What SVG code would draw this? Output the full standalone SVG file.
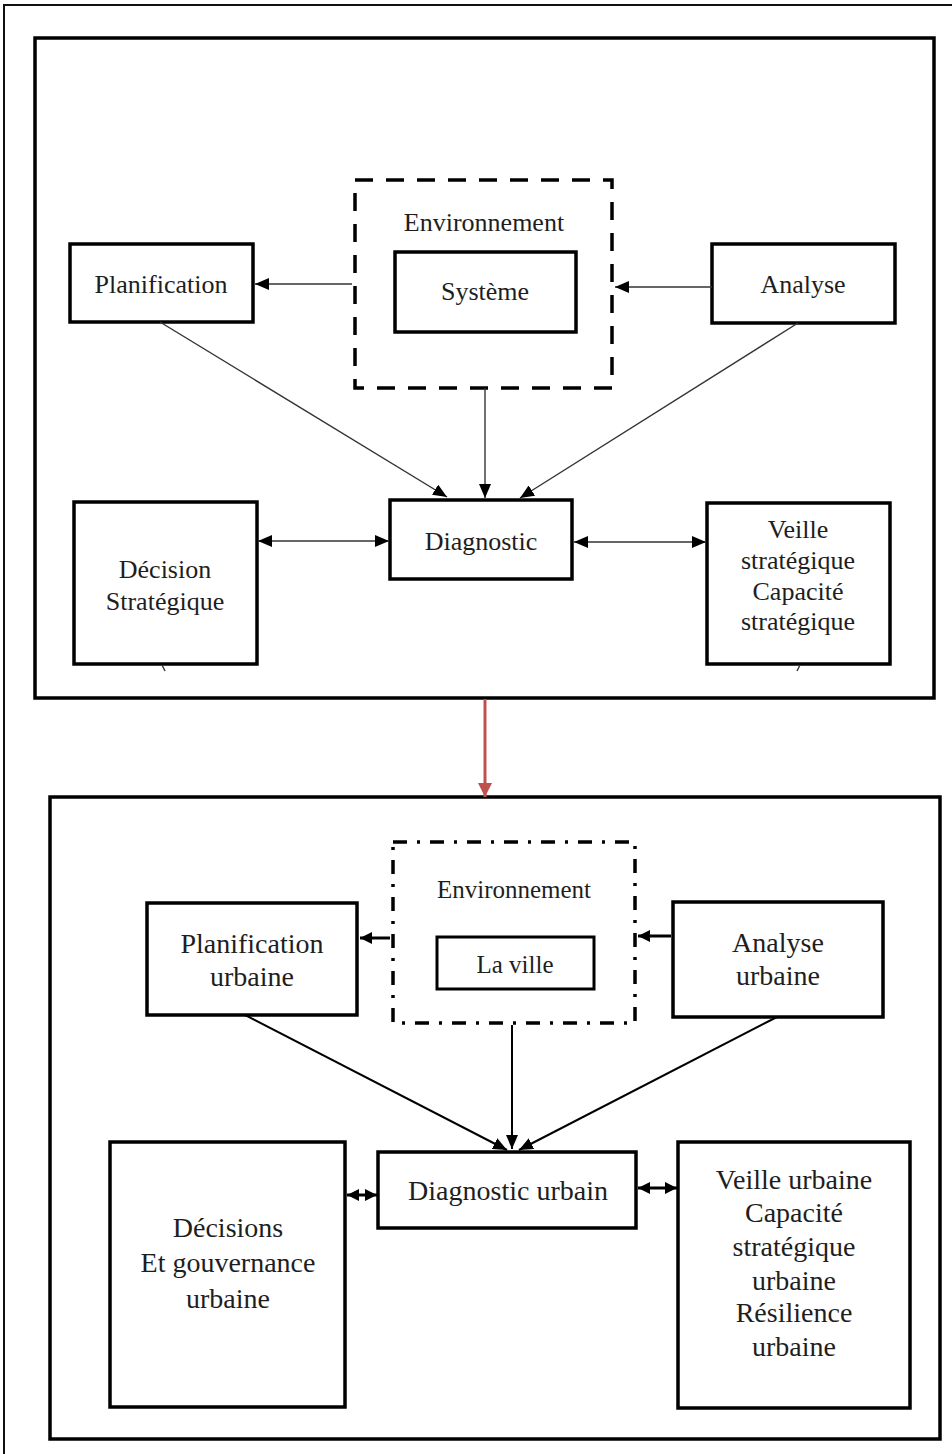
<svg xmlns="http://www.w3.org/2000/svg" width="952" height="1454" viewBox="0 0 952 1454">
  <style>
    text { font-family: "Liberation Serif", "Times New Roman", serif; fill: #1e1e1e; text-anchor: middle; }
    .frame { fill: none; stroke: #111; stroke-width: 2; }
    .panel { fill: none; stroke: #000; stroke-width: 3.5; }
    .box { fill: #fff; stroke: #000; stroke-width: 3.5; }
    .env1 { fill: none; stroke: #000; stroke-width: 3.5; stroke-dasharray: 18 13; }
    .env2 { fill: none; stroke: #000; stroke-width: 3.5; stroke-dasharray: 14 10 3 10; }
    .thin { fill: none; stroke: #333; stroke-width: 1.4; }
    .thick { fill: none; stroke: #000; stroke-width: 2; }
    .bold { fill: none; stroke: #000; stroke-width: 3; }
    .t26 { font-size: 26px; }
    .t25 { font-size: 25px; }
    .t28 { font-size: 28px; }
  </style>
  <defs>
    <marker id="ah" viewBox="0 0 14 12" refX="14" refY="6" markerWidth="14" markerHeight="12" markerUnits="userSpaceOnUse" orient="auto-start-reverse">
      <path d="M0,0 L14,6 L0,12 z" fill="#000"/>
    </marker>
    <marker id="ahb" viewBox="0 0 12 12" refX="12" refY="6" markerWidth="12" markerHeight="12" markerUnits="userSpaceOnUse" orient="auto-start-reverse">
      <path d="M0,0 L12,6 L0,12 z" fill="#000"/>
    </marker>
    <marker id="ahr" viewBox="0 0 14 14" refX="14" refY="7" markerWidth="14" markerHeight="14" markerUnits="userSpaceOnUse" orient="auto">
      <path d="M0,0 L14,7 L0,14 z" fill="#c0504d"/>
    </marker>
  </defs>

  <rect width="952" height="1454" fill="#fff"/>
  <!-- outer frame -->
  <rect class="frame" x="4" y="5" width="970" height="1470"/>

  <!-- upper panel: generic model -->
  <rect id="panel-top" class="panel" x="35" y="38" width="899" height="660"/>

  <g id="env-top">
    <rect class="env1" x="355" y="180" width="257" height="208"/>
    <text class="t26" x="484" y="231">Environnement</text>
  </g>
  <g id="systeme">
    <rect class="box" x="395" y="252" width="181" height="80"/>
    <text class="t26" x="485" y="300">Système</text>
  </g>
  <g id="planification">
    <rect class="box" x="70" y="244" width="183" height="78"/>
    <text class="t26" x="161" y="293">Planification</text>
  </g>
  <g id="analyse">
    <rect class="box" x="712" y="244" width="183" height="79"/>
    <text class="t26" x="803" y="293">Analyse</text>
  </g>
  <g id="diagnostic">
    <rect class="box" x="390" y="500" width="182" height="79"/>
    <text class="t26" x="481" y="550">Diagnostic</text>
  </g>
  <g id="decision">
    <rect class="box" x="74" y="502" width="183" height="162"/>
    <text class="t26" x="165" y="578">Décision</text>
    <text class="t26" x="165" y="610">Stratégique</text>
  </g>
  <g id="veille">
    <rect class="box" x="707" y="503" width="183" height="161"/>
    <text class="t26" x="798" y="538">Veille</text>
    <text class="t26" x="798" y="569">stratégique</text>
    <text class="t26" x="798" y="600">Capacité</text>
    <text class="t26" x="798" y="630">stratégique</text>
  </g>

  <!-- lower panel: urban model -->
  <rect id="panel-bottom" class="panel" x="50" y="797" width="890" height="642"/>

  <g id="env-bottom">
    <rect class="env2" x="393" y="842" width="242" height="181"/>
    <text class="t25" x="514" y="898">Environnement</text>
  </g>
  <g id="ville">
    <rect class="box" x="437" y="937" width="157" height="52" style="stroke-width:3"/>
    <text class="t25" x="515" y="973">La ville</text>
  </g>
  <g id="planification-urbaine">
    <rect class="box" x="147" y="903" width="210" height="112"/>
    <text class="t28" x="252" y="953">Planification</text>
    <text class="t28" x="252" y="986">urbaine</text>
  </g>
  <g id="analyse-urbaine">
    <rect class="box" x="673" y="902" width="210" height="115"/>
    <text class="t28" x="778" y="952">Analyse</text>
    <text class="t28" x="778" y="985">urbaine</text>
  </g>
  <g id="diagnostic-urbain">
    <rect class="box" x="378" y="1152" width="258" height="76"/>
    <text class="t28" x="508" y="1200">Diagnostic urbain</text>
  </g>
  <g id="decisions">
    <rect class="box" x="110" y="1142" width="235" height="265"/>
    <text class="t28" x="228" y="1237">Décisions</text>
    <text class="t28" x="228" y="1272">Et gouvernance</text>
    <text class="t28" x="228" y="1308">urbaine</text>
  </g>
  <g id="veille-urbaine">
    <rect class="box" x="678" y="1142" width="232" height="266"/>
    <text class="t28" x="794" y="1189">Veille urbaine</text>
    <text class="t28" x="794" y="1222">Capacité</text>
    <text class="t28" x="794" y="1256">stratégique</text>
    <text class="t28" x="794" y="1290">urbaine</text>
    <text class="t28" x="794" y="1322">Résilience</text>
    <text class="t28" x="794" y="1356">urbaine</text>
  </g>

  <!-- connectors -->
  <g id="connectors">
    <line class="thin" x1="352" y1="284" x2="255" y2="284" marker-end="url(#ah)"/>
    <line class="thin" x1="712" y1="287" x2="615" y2="287" marker-end="url(#ah)"/>
    <line class="thin" x1="160" y1="322" x2="447" y2="497" marker-end="url(#ah)"/>
    <line class="thin" x1="485" y1="388" x2="485" y2="498" marker-end="url(#ah)"/>
    <line class="thin" x1="798" y1="323" x2="520" y2="498" marker-end="url(#ah)"/>
    <line class="thin" x1="258" y1="541" x2="389" y2="541" marker-start="url(#ah)" marker-end="url(#ah)"/>
    <line class="thin" x1="574" y1="542" x2="706" y2="542" marker-start="url(#ah)" marker-end="url(#ah)"/>
    <line class="thin" x1="162" y1="665" x2="165" y2="671"/>
    <line class="thin" x1="800" y1="665" x2="797" y2="671"/>

    <line x1="485" y1="699" x2="485" y2="797" stroke="#c0504d" stroke-width="3" marker-end="url(#ahr)"/>

    <line class="bold" x1="390" y1="938" x2="360" y2="938" marker-end="url(#ahb)"/>
    <line class="bold" x1="671" y1="936" x2="638" y2="936" marker-end="url(#ahb)"/>
    <line class="thick" x1="245" y1="1015" x2="507" y2="1150" marker-end="url(#ah)"/>
    <line class="thick" x1="512" y1="1025" x2="512" y2="1149" marker-end="url(#ah)"/>
    <line class="thick" x1="777" y1="1017" x2="519" y2="1150" marker-end="url(#ah)"/>
    <line class="bold" x1="347" y1="1195" x2="377" y2="1195" marker-start="url(#ahb)" marker-end="url(#ahb)"/>
    <line class="bold" x1="638" y1="1188" x2="677" y2="1188" marker-start="url(#ahb)" marker-end="url(#ahb)"/>
  </g>
</svg>
